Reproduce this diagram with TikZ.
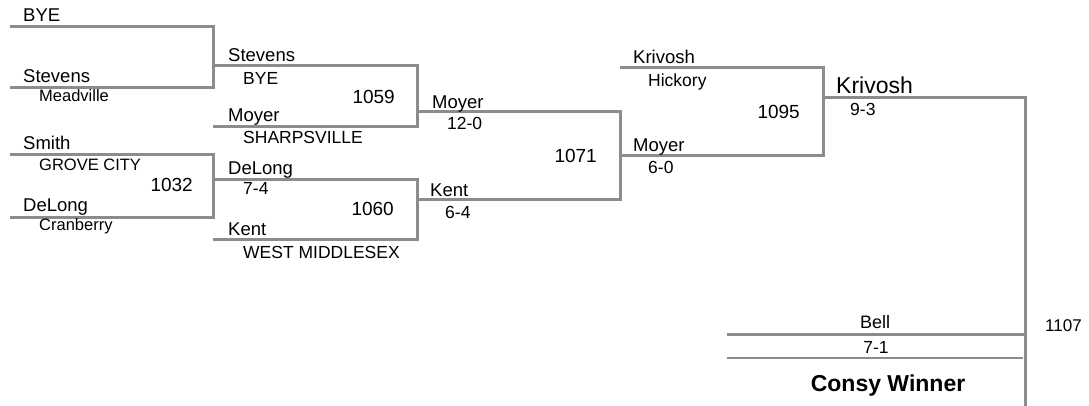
\documentclass[tikz,border=0pt]{standalone}
\usepackage{fontspec}
\setmainfont{Liberation Sans}
\usepackage{xcolor}
\usetikzlibrary{positioning,calc}

\definecolor{bracketgray}{HTML}{8C8C8C}

\begin{document}
\begin{tikzpicture}[
        x=1pt, y=-1pt,
        bline/.style={draw=bracketgray, line width=3pt},
        thinline/.style={draw=bracketgray, line width=1.6pt},
        wname/.style={anchor=base west, inner sep=0pt, font=\fontsize{18.5}{20}\selectfont},
        wsub/.style={anchor=base west, inner sep=0pt, font=\fontsize{17.5}{19}\selectfont},
        wsubsmall/.style={anchor=base west, inner sep=0pt, font=\fontsize{16.5}{18}\selectfont},
        boutno/.style={anchor=base east, inner sep=0pt, font=\fontsize{19}{21}\selectfont}
    ]
        \useasboundingbox (0,0) rectangle (1089,406);

        % slot coordinates (start of each line)
        \coordinate (s1) at (10,27);
        \coordinate (s2) at (10,88);
        \coordinate (s3) at (10,155);
        \coordinate (s4) at (10,217);
        \coordinate (w1) at (213,66);
        \coordinate (s5) at (213,127);
        \coordinate (w3) at (213,180);
        \coordinate (s6) at (213,239);
        \coordinate (w5) at (417,112);
        \coordinate (w6) at (417,200);
        \coordinate (s7) at (620,68);
        \coordinate (w7) at (620,156);
        \coordinate (w8) at (823,98);
        \coordinate (bell) at (727,334);
        \coordinate (fin) at (1025,406);

        % brackets
        \draw[bline] (s1) -- (s1 -| w1) -- (s2 -| w1) -- (s2);
        \draw[bline] (s3) -- (s3 -| w3) -- (s4 -| w3) -- (s4);
        \draw[bline] (w1) -- (w1 -| w5) -- (s5 -| w5) -- (s5);
        \draw[bline] (w3) -- (w3 -| w6) -- (s6 -| w6) -- (s6);
        \draw[bline] (w5) -- (w5 -| w7) -- (w6 -| w7) -- (w6);
        \draw[bline] (s7) -- (s7 -| w8) -- (w7 -| w8) -- (w7);
        \draw[bline] (w8) -- (w8 -| fin) -- (fin);
        \draw[bline] (bell) -- (bell -| fin);
        \draw[thinline] (727,358) -- (1023,358);

        % round 1
        \node[wname] (bye1) at (23,21.7) {BYE};
        \node[wname] (stevens1) at (23,82.7) {Stevens};
        \node[wsubsmall] (meadville) at (39,101.5) {Meadville};
        \node[wname] (smith) at (23,150) {Smith};
        \node[wsubsmall] (grovecity) at (39,170.7) {GROVE CITY};
        \node[boutno] (b1032) at (193,191.7) {1032};
        \node[wname] (delong1) at (23,211.7) {DeLong};
        \node[wsubsmall] (cranberry) at (39,230) {Cranberry};

        % round 2
        \node[wname] (stevens2) at (228,61.7) {Stevens};
        \node[wsub] (bye2) at (243,84.3) {BYE};
        \node[boutno] (b1059) at (395,103.3) {1059};
        \node[wname] (moyer1) at (228,121.7) {Moyer};
        \node[wsub] (sharpsville) at (243,143.3) {SHARPSVILLE};
        \node[wname] (delong2) at (228,175) {DeLong};
        \node[wsub] (sc74) at (243,195) {7-4};
        \node[boutno] (b1060) at (394,215) {1060};
        \node[wname] (kent1) at (228,235) {Kent};
        \node[wsub] (westmid) at (243,258.3) {WEST MIDDLESEX};

        % round 3
        \node[wname] (moyer2) at (432,108.3) {Moyer};
        \node[wsub] (sc120) at (447,130) {12-0};
        \node[boutno] (b1071) at (597,162.7) {1071};
        \node[wname] (kent2) at (430,196.7) {Kent};
        \node[wsub] (sc64) at (445,218.3) {6-4};

        % round 4
        \node[wname] (krivosh1) at (633,63.3) {Krivosh};
        \node[wsub] (hickory) at (648,86.7) {Hickory};
        \node[boutno] (b1095) at (800,118.3) {1095};
        \node[wname] (moyer3) at (633,151.7) {Moyer};
        \node[wsub] (sc60) at (648,174) {6-0};

        % final
        \node[wname, font=\fontsize{23}{25}\selectfont] (krivosh2) at (836,93.3) {Krivosh};
        \node[wsub] (sc93) at (850,116) {9-3};
        \node[anchor=base, inner sep=0pt, font=\fontsize{18}{20}\selectfont] (bellname) at (875,328.3) {Bell};
        \node[anchor=base, inner sep=0pt, font=\fontsize{17.5}{19}\selectfont] (sc71) at (876,353.3) {7-1};
        \node[anchor=base, inner sep=0pt, font=\fontsize{23}{25}\selectfont\bfseries] (consy) at (888,391.7) {Consy Winner};
        \node[anchor=base west, inner sep=0pt, font=\fontsize{17}{19}\selectfont] (b1107) at (1045,331.7) {1107};
    \end{tikzpicture}
\end{document}
